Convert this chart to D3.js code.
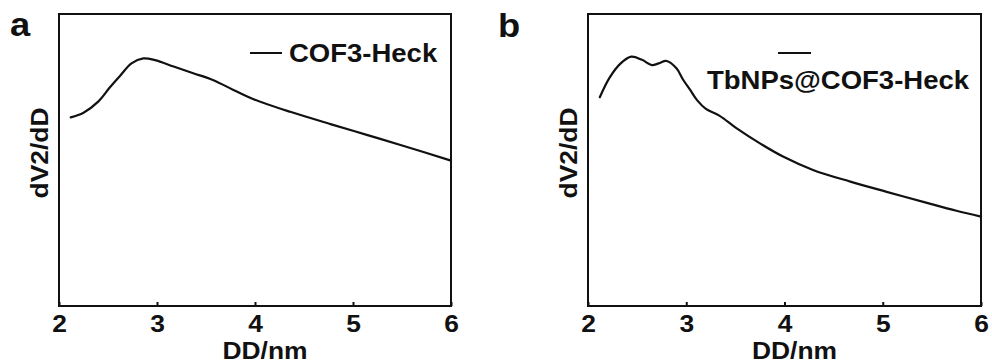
<!DOCTYPE html>
<html>
<head>
<meta charset="utf-8">
<script src="https://cdn.jsdelivr.net/npm/d3@7"></script>
<style>
  html, body { margin: 0; padding: 0; background: #fff; }
  svg { display: block; }
  text { font-family: "Liberation Sans", Arial, sans-serif; font-weight: bold; fill: #111; }
</style>
</head>
<body>
<svg id="chart" width="992" height="364"></svg>
<script>
// Pore size distribution curves (arbitrary units on the y axis)
const xTicks = [2, 3, 4, 5, 6];
const xDomain = [2, 6];

const cofDiameter = [2.12, 2.25, 2.40, 2.52, 2.62, 2.74, 2.86, 2.98, 3.17, 3.37, 3.57, 3.78, 3.98, 4.36, 4.77, 5.14, 5.51, 6.0];
const cofValue    = [0.646, 0.662, 0.700, 0.749, 0.787, 0.831, 0.848, 0.842, 0.820, 0.797, 0.774, 0.740, 0.709, 0.665, 0.623, 0.586, 0.549, 0.498];

const tbDiameter = [2.12, 2.22, 2.33, 2.44, 2.55, 2.65, 2.72, 2.80, 2.90, 2.97, 3.04, 3.11, 3.20, 3.34, 3.51, 3.75, 3.99, 4.29, 4.67, 5.04, 5.45, 5.75, 6.0];
const tbValue    = [0.715, 0.782, 0.830, 0.854, 0.843, 0.825, 0.831, 0.839, 0.814, 0.774, 0.740, 0.705, 0.675, 0.651, 0.609, 0.557, 0.511, 0.466, 0.426, 0.391, 0.353, 0.326, 0.306];

const panels = [
  { letter: "a", name: "COF3-Heck", xs: cofDiameter, ys: cofValue,
    left: 59, right: 451, letterX: 10, letterY: 36,
    legendLine: [250, 282, 53], legendText: [289, 62] },
  { letter: "b", name: "TbNPs@COF3-Heck", xs: tbDiameter, ys: tbValue,
    left: 588, right: 981, letterX: 498, letterY: 37,
    legendLine: [778, 811, 53], legendText: [707, 89] }
];

const plotTop = 14, plotBottom = 306;
const stretch = "scale(1.1,1)";
const svg = d3.select("#chart");

panels.forEach(p => {
  const x = d3.scaleLinear().domain(xDomain).range([p.left, p.right]);
  const y = d3.scaleLinear().domain([0, 1]).range([plotBottom, plotTop]);
  const g = svg.append("g");

  // bottom axis with inward ticks
  const axis = d3.axisBottom(x).tickValues(xTicks).tickFormat(d3.format("d"))
    .tickSizeInner(-4).tickSizeOuter(0).tickPadding(10);
  const ax = g.append("g").attr("transform", `translate(0,${plotBottom})`).call(axis);
  ax.select(".domain").remove();
  ax.selectAll(".tick line").attr("stroke", "#111").attr("stroke-width", 2);
  ax.selectAll(".tick text")
    .attr("y", 26).attr("dy", 0)
    .attr("font-size", 24)
    .attr("transform", stretch);

  // frame
  g.append("rect")
    .attr("x", p.left).attr("y", plotTop)
    .attr("width", p.right - p.left).attr("height", plotBottom - plotTop)
    .attr("fill", "none").attr("stroke", "#111").attr("stroke-width", 2);

  // curve
  const pts = p.xs.map((d, i) => [d, p.ys[i]]);
  const line = d3.line().x(d => x(d[0])).y(d => y(d[1])).curve(d3.curveCatmullRom.alpha(0.5));
  g.append("path").attr("d", line(pts))
    .attr("fill", "none").attr("stroke", "#111").attr("stroke-width", 2.2)
    .attr("stroke-linejoin", "round").attr("stroke-linecap", "round");

  // legend
  g.append("line")
    .attr("x1", p.legendLine[0]).attr("x2", p.legendLine[1])
    .attr("y1", p.legendLine[2]).attr("y2", p.legendLine[2])
    .attr("stroke", "#111").attr("stroke-width", 2);
  g.append("text")
    .attr("transform", `translate(${p.legendText[0]},${p.legendText[1]}) ${stretch}`)
    .attr("font-size", 25).text(p.name);

  // axis titles
  g.append("text")
    .attr("transform", `translate(${(p.left + p.right) / 2 + 10},359) ${stretch}`)
    .attr("text-anchor", "middle").attr("font-size", 24).text("DD/nm");
  g.append("text")
    .attr("transform", `translate(${p.left - 11},153) rotate(-90) ${stretch}`)
    .attr("text-anchor", "middle").attr("font-size", 24).text("dV2/dD");

  // panel letter
  g.append("text")
    .attr("transform", `translate(${p.letterX},${p.letterY}) ${stretch}`)
    .attr("font-size", 33).text(p.letter);
});
</script>
</body>
</html>
